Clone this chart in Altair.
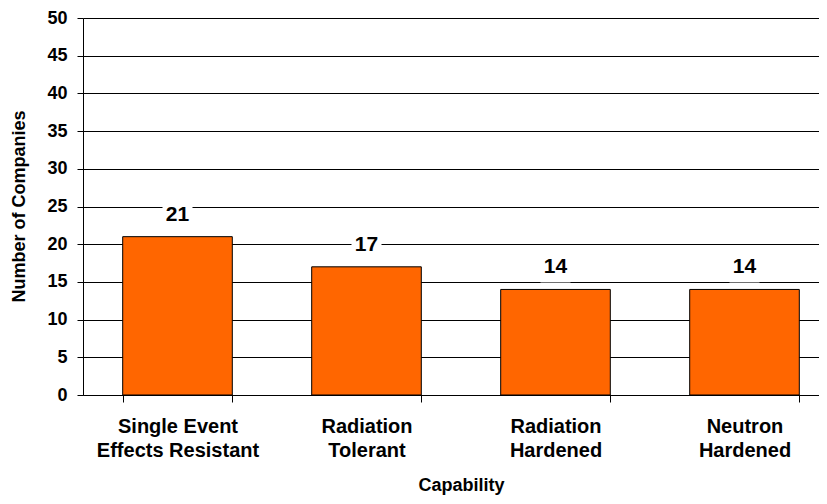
import altair as alt
import pandas as pd

categories = ["Single Event|Effects Resistant", "Radiation|Tolerant", "Radiation|Hardened", "Neutron|Hardened"]
companies = [21, 17, 14, 14]
y_ticks = [0, 5, 10, 15, 20, 25, 30, 35, 40, 45, 50]

df = pd.DataFrame({"cap": categories, "n": companies})

FONT = "Liberation Sans"

x_enc = alt.X(
    "cap:N",
    sort=categories,
    scale=alt.Scale(paddingInner=0.42, paddingOuter=0.21, range=[0, 756]),
    axis=alt.Axis(
        title="Capability",
        labelExpr="split(datum.label, '|')",
        labelAngle=0,
        labelFont=FONT,
        labelFontSize=20,
        labelFontWeight="bold",
        labelColor="black",
        labelLineHeight=24,
        labelPadding=14,
        labelBaseline="top",
        tickBand="extent",
        tickSize=7,
        tickColor="black",
        domainColor="black",
        titleFont=FONT,
        titleFontSize=18,
        titleFontWeight="bold",
        titleColor="black",
        titleX=378,
        titleY=95,
        titleBaseline="alphabetic",
        grid=False,
    ),
)

y_enc = alt.Y(
    "n:Q",
    scale=alt.Scale(domain=[0, 50], nice=False),
    axis=alt.Axis(
        title="Number of Companies",
        values=y_ticks,
        labelFont=FONT,
        labelFontSize=18,
        labelFontWeight="bold",
        labelColor="black",
        labelPadding=10,
        tickSize=6,
        tickColor="black",
        domainColor="black",
        gridColor="black",
        gridOpacity=1,
        gridWidth=1,
        titleFont=FONT,
        titleFontSize=18,
        titleFontWeight="bold",
        titleColor="black",
        titleX=-64,
        titleY=188,
        titleAngle=270,
        titleBaseline="middle",
        titleAlign="center",
    ),
)

base = alt.Chart(df).encode(x=x_enc, y=y_enc)

bars = base.mark_bar(color="#FF6600", stroke="black", strokeWidth=1)

boxes = base.mark_point(
    shape="M-1,-1L1,-1L1,1L-1,1Z", size=900, filled=True, fill="white", opacity=1,
    strokeWidth=0, yOffset=-22,
)

labels = base.mark_text(
    font=FONT, fontSize=21, fontWeight="bold", color="black", baseline="middle", yOffset=-22,
).encode(text="n:Q")

chart = alt.layer(bars, boxes, labels).properties(
    width=736,
    height=377,
    autosize=alt.AutoSizeParams(type="none"),
    padding={"left": 75, "top": 10, "right": 0, "bottom": 101},
).configure_view(stroke=None).configure(background="white")

chart.save("out.html", embed_options={"renderer": "svg", "actions": False})
